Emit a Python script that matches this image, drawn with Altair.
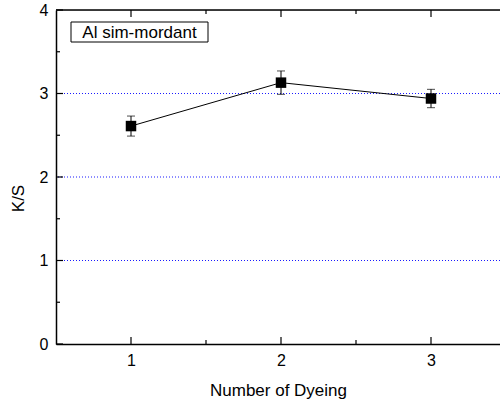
import altair as alt
import pandas as pd

# data
dyeing = [1, 2, 3]
ks = [2.61, 3.13, 2.94]
ks_err = [0.12, 0.14, 0.11]
series_label = ["Al sim-mordant"]
grid_values = [1, 2, 3]
x_major = [1, 2, 3]
x_minor = [1.5, 2.5]
y_major = [0, 1, 2, 3, 4]
y_minor = [0.5, 1.5, 2.5, 3.5]

df = pd.DataFrame({"n": dyeing, "ks": ks, "err": ks_err})
df["lo"] = df["ks"] - df["err"]
df["hi"] = df["ks"] + df["err"]

FONT = "Liberation Sans"
W, H = 444, 334

xs = alt.Scale(domain=[0.5, 3.46], nice=False, zero=False)
ys = alt.Scale(domain=[0, 4], nice=False, zero=True)

base = alt.Chart(df)

grid = alt.Chart(pd.DataFrame({"g": grid_values})).mark_rule(
    color="#1a1aff", strokeDash=[1, 2], strokeWidth=1
).encode(y=alt.Y("g:Q", scale=ys))

line = base.mark_line(color="black", strokeWidth=1).encode(
    x=alt.X("n:Q", scale=xs,
            axis=alt.Axis(values=x_major, format="d", title="Number of Dyeing",
                          tickSize=0, labelPadding=8, titlePadding=14,
                          domainColor="black", domainWidth=1.5,
                          labelFont=FONT, labelFontSize=16, labelColor="black",
                          titleFont=FONT, titleFontSize=17, titleFontWeight="normal",
                          titleColor="black", grid=False, labelFlush=False)),
    y=alt.Y("ks:Q", scale=ys,
            axis=alt.Axis(values=y_major, format="d", title="K/S",
                          tickSize=0, labelPadding=8, titlePadding=12,
                          domainColor="black", domainWidth=1.5,
                          labelFont=FONT, labelFontSize=16, labelColor="black",
                          titleFont=FONT, titleFontSize=17, titleFontWeight="normal",
                          titleColor="black", grid=False, titleY=188, labelFlush=False)),
)

ebar = base.mark_rule(color="black", strokeWidth=1).encode(
    x=alt.X("n:Q", scale=xs), y=alt.Y("lo:Q", scale=ys), y2="hi:Q")
cap_lo = base.mark_tick(orient="horizontal", size=8, thickness=1, color="black").encode(
    x=alt.X("n:Q", scale=xs), y=alt.Y("lo:Q", scale=ys))
cap_hi = base.mark_tick(orient="horizontal", size=8, thickness=1, color="black").encode(
    x=alt.X("n:Q", scale=xs), y=alt.Y("hi:Q", scale=ys))

pts = base.mark_square(size=110, color="black", opacity=1, stroke="white",
                       strokeWidth=0).encode(
    x=alt.X("n:Q", scale=xs), y=alt.Y("ks:Q", scale=ys))

top_border = alt.Chart(pd.DataFrame({"t": [4]})).mark_rule(
    color="black", strokeWidth=1.5).encode(y=alt.Y("t:Q", scale=ys))

xmaj = pd.DataFrame({"v": x_major})
xmin = pd.DataFrame({"v": x_minor})
ymaj = pd.DataFrame({"v": y_major})
ymin = pd.DataFrame({"v": y_minor})

def xticks(d, a, b):
    return alt.Chart(d).mark_rule(strokeWidth=1.2, color="black").encode(
        x=alt.X("v:Q", scale=xs), y=alt.value(a), y2=alt.value(b))

def yticks(d, a, b):
    return alt.Chart(d).mark_rule(strokeWidth=1.2, color="black").encode(
        y=alt.Y("v:Q", scale=ys), x=alt.value(a), x2=alt.value(b))

ticks = [
    xticks(xmaj, H, H - 7), xticks(xmin, H, H - 4),
    xticks(xmaj, 0, 7), xticks(xmin, 0, 4),
    yticks(ymaj, 0, 7), yticks(ymin, 0, 4),
]

lab = pd.DataFrame({"label": series_label})
box = alt.Chart(lab).mark_rect(fill="white", stroke="black", strokeWidth=1).encode(
    x=alt.value(15), x2=alt.value(152), y=alt.value(12), y2=alt.value(32))
txt = alt.Chart(lab).mark_text(font=FONT, fontSize=17, align="center",
                               baseline="middle", color="black").encode(
    x=alt.value(83.5), y=alt.value(22.5), text="label:N")

chart = alt.layer(grid, line, ebar, cap_lo, cap_hi, pts, top_border,
                  *ticks, box, txt).properties(
    width=W, height=H,
    autosize=alt.AutoSizeParams(type="none"),
    padding={"left": 56, "top": 10, "right": 0, "bottom": 56},
).configure_view(stroke=None).configure(background="white")

chart.save("out.html", embed_options={"renderer": "svg", "actions": False})
